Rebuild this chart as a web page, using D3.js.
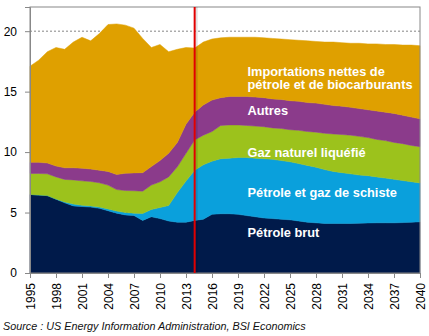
<!DOCTYPE html>
<html>
<head>
<meta charset="utf-8">
<script src="https://cdn.jsdelivr.net/npm/d3@7"></script>
<style>
  body { margin: 0; background: #fff; }
  svg { display: block; font-family: "Liberation Sans", Arial, sans-serif; }
</style>
</head>
<body>
<div id="chart"></div>
<script>
// data (million barrels per day)
var years = d3.range(1995, 2041);
var brut = [6.5, 6.45, 6.4, 6.1, 5.8, 5.55, 5.5, 5.45, 5.35, 5.15, 4.95, 4.8, 4.75, 4.35, 4.65, 4.5, 4.3, 4.2, 4.2, 4.35,
  4.45, 4.85, 4.9, 4.9, 4.85, 4.75, 4.65, 4.55, 4.5, 4.45, 4.4, 4.3, 4.2, 4.15, 4.1, 4.1, 4.1, 4.1, 4.12, 4.14,
  4.15, 4.15, 4.15, 4.17, 4.2, 4.23];
var schiste = [0, 0, 0, 0.02, 0.08, 0.15, 0.1, 0.1, 0.1, 0.15, 0.17, 0.2, 0.2, 0.57, 0.6, 0.92, 1.28, 2.45, 3.4, 4.15,
  4.5, 4.4, 4.55, 4.6, 4.7, 4.8, 4.85, 4.9, 4.9, 4.85, 4.8, 4.75, 4.7, 4.6, 4.45, 4.3, 4.2, 4.1, 3.98, 3.91,
  3.8, 3.7, 3.6, 3.48, 3.35, 3.22];
var gnl = [1.73, 1.78, 1.8, 1.83, 1.86, 2.0, 2.02, 2.02, 2.01, 1.97, 1.78, 1.82, 1.85, 1.85, 2.02, 2.12, 2.37, 2.13, 2.3, 2.5,
  2.45, 2.45, 2.75, 2.75, 2.7, 2.65, 2.65, 2.65, 2.6, 2.65, 2.65, 2.75, 2.8, 2.9, 3.0, 3.1, 3.15, 3.2, 3.2, 3.15,
  3.1, 3.1, 3.05, 3.05, 3.0, 3.0];
var autres = [0.92, 0.92, 0.9, 0.9, 0.96, 1.0, 1.05, 1.03, 1.04, 1.13, 1.25, 1.43, 1.48, 1.53, 1.53, 1.76, 1.95, 2.02, 2.4, 2.3,
  2.5, 2.6, 2.3, 2.35, 2.35, 2.4, 2.4, 2.4, 2.4, 2.4, 2.4, 2.4, 2.4, 2.4, 2.4, 2.35, 2.35, 2.3, 2.3, 2.3,
  2.35, 2.35, 2.4, 2.35, 2.35, 2.3];
var importations = [7.95, 8.45, 9.2, 9.8, 9.8, 10.4, 10.83, 10.6, 11.3, 12.15, 12.45, 12.25, 11.97, 11.1, 9.85, 9.6, 8.4, 7.7, 6.35, 5.3,
  5.2, 5.05, 4.95, 4.9, 4.9, 4.9, 4.95, 4.95, 5.0, 5.0, 5.05, 5.05, 5.1, 5.1, 5.15, 5.25, 5.25, 5.3, 5.4, 5.45,
  5.55, 5.6, 5.7, 5.8, 5.95, 6.05];
var seriesKeys = ["brut", "schiste", "gnl", "autres", "importations"];
var seriesColors = ["#001a4a", "#0aa0dc", "#9cc21c", "#8b3b8b", "#dfa000"];
var yTicks = [0, 5, 10, 15, 20];
var xTicks = d3.range(1995, 2041, 3);
var markerYear = 2014;
var labels = [
  { lines: ["Importations nettes de", "pétrole et de biocarburants"], year: 2020.1, value: 16.3 },
  { lines: ["Autres"], year: 2020.1, value: 13.05 },
  { lines: ["Gaz naturel liquéfié"], year: 2020.1, value: 9.6 },
  { lines: ["Pétrole et gaz de schiste"], year: 2020.1, value: 6.3 },
  { lines: ["Pétrole brut"], year: 2020.1, value: 3.0 }
];
var sourceText = "Source : US Energy Information Administration, BSI Economics";

var table = years.map(function(y, i) {
  return { year: y, brut: brut[i], schiste: schiste[i], gnl: gnl[i], autres: autres[i], importations: importations[i] };
});

var margin = {top: 7, right: 9, bottom: 63, left: 30},
    width = 429 - margin.left - margin.right,
    height = 336 - margin.top - margin.bottom;

var svg = d3.select("#chart")
  .append("svg")
    .attr("width", 429)
    .attr("height", 336);

var g = svg.append("g")
    .attr("transform", "translate(" + margin.left + "," + margin.top + ")");

var x = d3.scaleLinear().domain([1995, 2040]).range([0, width]);
var y = d3.scaleLinear().domain([0, 22]).range([height, 0]);

// dashed grid
g.selectAll(".grid")
  .data(yTicks.filter(function(d) { return d > 0; }))
  .enter().append("line")
    .attr("x1", 0).attr("x2", width)
    .attr("y1", function(d) { return y(d); })
    .attr("y2", function(d) { return y(d); })
    .attr("stroke", "#666")
    .attr("stroke-width", 0.8)
    .attr("stroke-dasharray", "2,2");

// stacked areas
var stack = d3.stack().keys(seriesKeys);
var layers = stack(table);
var area = d3.area()
  .x(function(d) { return x(d.data.year); })
  .y0(function(d) { return y(d[0]); })
  .y1(function(d) { return y(d[1]); });

g.selectAll(".layer")
  .data(layers)
  .enter().append("path")
    .attr("fill", function(d, i) { return seriesColors[i]; })
    .attr("stroke", function(d, i) { return seriesColors[i]; })
    .attr("stroke-width", 0.5)
    .attr("d", area);

// frame
g.append("rect")
  .attr("x", 0).attr("y", 0)
  .attr("width", width).attr("height", height)
  .attr("fill", "none")
  .attr("stroke", "#888")
  .attr("stroke-width", 1);

// y axis
var yAxis = g.append("g")
  .call(d3.axisLeft(y).tickValues(yTicks).tickSize(5).tickPadding(8));
yAxis.select(".domain").attr("stroke", "#888");
yAxis.selectAll(".tick line").attr("stroke", "#888");
yAxis.selectAll("text").attr("font-size", "12px").attr("fill", "#000");

// x axis
var xAxis = g.append("g")
  .attr("transform", "translate(0," + height + ")")
  .call(d3.axisBottom(x).tickValues(xTicks).tickFormat(d3.format("d")).tickSize(5));
xAxis.select(".domain").attr("stroke", "#888");
xAxis.selectAll(".tick line").attr("stroke", "#888");
xAxis.selectAll("text")
  .attr("font-size", "12px")
  .attr("fill", "#000")
  .attr("text-anchor", "end")
  .attr("transform", "rotate(-90)")
  .attr("x", -10)
  .attr("y", 0)
  .attr("dy", "0.35em");

// red marker line
g.append("line")
  .attr("x1", x(markerYear) + 2).attr("x2", x(markerYear) + 2)
  .attr("y1", 0).attr("y2", height)
  .attr("stroke", "#000")
  .attr("stroke-opacity", 0.12)
  .attr("stroke-width", 2);
g.append("line")
  .attr("x1", x(markerYear)).attr("x2", x(markerYear))
  .attr("y1", 0).attr("y2", height)
  .attr("stroke", "#e00000")
  .attr("stroke-width", 2);

// series labels
labels.forEach(function(l) {
  var t = g.append("text")
    .attr("x", x(l.year))
    .attr("y", y(l.value))
    .attr("fill", "#fff")
    .attr("font-weight", "bold")
    .attr("font-size", "12.8px");
  l.lines.forEach(function(line, i) {
    t.append("tspan")
      .attr("x", x(l.year))
      .attr("dy", i === 0 ? 0 : 13.5)
      .text(line);
  });
});

// source
svg.append("text")
  .attr("x", 3)
  .attr("y", 330)
  .attr("font-size", "10.8px")
  .attr("font-style", "italic")
  .attr("fill", "#111")
  .text(sourceText);
</script>
</body>
</html>
